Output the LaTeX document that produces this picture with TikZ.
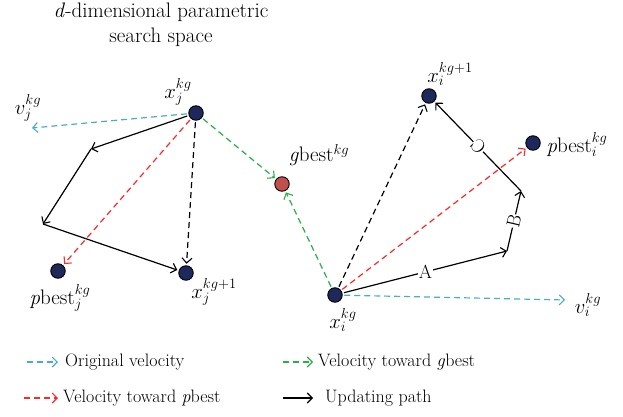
\documentclass[tikz,border=0pt]{standalone}
\usetikzlibrary{arrows.meta}
\definecolor{cblue}{RGB}{75,172,198}
\definecolor{cred}{RGB}{255,40,40}
\definecolor{cgreen}{RGB}{40,175,75}
\definecolor{cnavy}{RGB}{30,40,90}
\definecolor{cbrick}{RGB}{192,80,77}
\begin{document}
\begin{tikzpicture}[x=1pt,y=-1pt,
  every node/.style={font=\fontsize{21}{25}\selectfont},
  pt/.style={circle,draw=black,line width=0.9pt,fill=cnavy,minimum size=14.5pt,inner sep=0pt,outer sep=2pt},
  gpt/.style={pt,fill=cbrick},
  tip/.style={-{Straight Barb[length=5pt,width=10pt,line width=1.1pt]}},
  dsh/.style={tip,line width=1.2pt,dash pattern=on 6pt off 4pt},
  vel/.style={dsh,cblue},
  pvel/.style={dsh,cred},
  gvel/.style={dsh,cgreen},
  nvel/.style={dsh,black},
  upd/.style={tip,line width=1.2pt,black},
  lbl/.style={inner sep=1pt},
  seglbl/.style={fill=white,inner sep=0.5pt,font=\fontsize{19}{21}\selectfont},
  leg/.style={anchor=west,inner sep=0pt,font=\fontsize{18}{21}\selectfont}]
\useasboundingbox (0,0) rectangle (623,417);
% title
\node[align=center] (title) at (161,25) {\textit{d}-dimensional parametric\\search space};
% points
\node[pt] (xj) at (196,113) {};
\node[pt] (xj1) at (186,273) {};
\node[pt] (pbj) at (58,271) {};
\node[gpt] (gb) at (282,184) {};
\node[pt] (xi) at (335,295) {};
\node[pt] (xi1) at (429,96) {};
\node[pt] (pbi) at (533,143) {};
\coordinate (vj) at (32,128);
\coordinate (vi) at (565,300);
\coordinate (c1) at (91,149);
\coordinate (c2) at (43,224);
\coordinate (a1) at (507,251);
\coordinate (b1) at (521,191);
% labels
\node[lbl] (lxj) at (178,92) {$x_j^{kg}$};
\node[lbl] (lvj) at (28,108) {$v_j^{kg}$};
\node[lbl] (lpbj) at (60,298) {\textit{p}best$_j^{kg}$};
\node[lbl] (lxj1) at (214,292) {$x_j^{kg+1}$};
\node[lbl] (lgb) at (319,155) {\textit{g}best$^{kg}$};
\node[lbl] (lxi1) at (450,74) {$x_i^{kg+1}$};
\node[lbl] (lpbi) at (577,145) {\textit{p}best$_i^{kg}$};
\node[lbl] (lxi) at (343,320) {$x_i^{kg}$};
\node[lbl] (lvi) at (588,305) {$v_i^{kg}$};
% left particle
\draw[vel] (xj) -- (vj);
\draw[pvel] (xj) -- (pbj);
\draw[nvel] (xj) -- (xj1);
\draw[gvel] (xj) -- (gb);
\draw[upd] (xj) -- (c1);
\draw[upd] (c1) -- (c2);
\draw[upd] (c2) -- (xj1);
% right particle
\draw[vel] (xi) -- (vi);
\draw[gvel] (xi) -- (gb);
\draw[nvel] (xi) -- (xi1);
\draw[pvel] (xi) -- (pbi);
\draw[upd] (xi) -- node[seglbl] (lA) {A} (a1);
\draw[upd] (a1) -- node[seglbl,sloped,allow upside down] (lB) {B} (b1);
\draw[upd] (b1) -- node[seglbl,sloped,allow upside down] (lC) {C} (xi1);
% legend
\coordinate (l1a) at (27,362); \coordinate (l1b) at (58,362);
\coordinate (l2a) at (24,398); \coordinate (l2b) at (58,398);
\coordinate (l3a) at (283,362); \coordinate (l3b) at (313,362);
\coordinate (l4a) at (283,398); \coordinate (l4b) at (313,398);
\draw[vel] (l1a) -- (l1b);
\draw[pvel] (l2a) -- (l2b);
\draw[gvel] (l3a) -- (l3b);
\draw[upd] (l4a) -- (l4b);
\node[leg] (t1) at (65,362) {Original velocity};
\node[leg] (t2) at (63,398) {Velocity toward \textit{p}best};
\node[leg] (t3) at (318,362) {Velocity toward \textit{g}best};
\node[leg] (t4) at (325,398) {Updating path};
\end{tikzpicture}
\end{document}
